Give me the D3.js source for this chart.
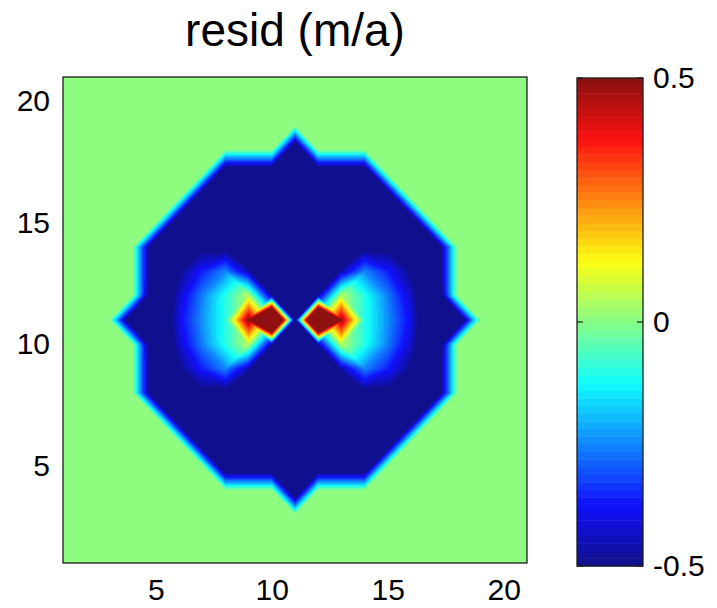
<!DOCTYPE html>
<html>
<head>
<meta charset="utf-8">
<script src="https://cdn.jsdelivr.net/npm/d3@7/dist/d3.min.js"></script>
<style>
  body { margin: 0; background: #fff; }
  svg text { font-family: "Liberation Sans", Arial, Helvetica, sans-serif; fill: #000; }
</style>
</head>
<body>
<svg id="chart" width="717" height="608"></svg>
<script>
// grid coordinates (columns left->right, rows top->bottom)
const xGrid = [1, 2, 3, 4, 5, 6, 7, 8, 9, 10, 11, 12, 13, 14, 15, 16, 17, 18, 19, 20, 21];
const yGrid = [21, 20, 19, 18, 17, 16, 15, 14, 13, 12, 11, 10, 9, 8, 7, 6, 5, 4, 3, 2, 1];

// residual field (m/a), one row per yGrid entry
const resid = [
  [0,0,0,0,0,0,0,0,0,0,0,0,0,0,0,0,0,0,0,0,0],
  [0,0,0,0,0,0,0,0,0,0,0,0,0,0,0,0,0,0,0,0,0],
  [0,0,0,0,0,0,0,0,0,0,0,0,0,0,0,0,0,0,0,0,0],
  [0,0,0,0,0,0,0,0,0,0,-0.7,0,0,0,0,0,0,0,0,0,0],
  [0,0,0,0,0,0,0,-0.7,-0.7,-0.7,-0.7,-0.7,-0.7,-0.7,0,0,0,0,0,0,0],
  [0,0,0,0,0,0,-0.7,-1,-1,-1,-1,-1,-1,-1,-0.7,0,0,0,0,0,0],
  [0,0,0,0,0,-0.7,-1,-1,-1,-1,-1,-1,-1,-1,-1,-0.7,0,0,0,0,0],
  [0,0,0,0,-0.7,-0.65,-0.52,-0.52,-1,-1,-1,-1,-1,-0.52,-0.52,-0.65,-0.7,0,0,0,0],
  [0,0,0,0,-0.7,-0.5,-0.36,-0.25,-0.45,-1,-1,-1,-0.45,-0.25,-0.36,-0.5,-0.7,0,0,0,0],
  [0,0,0,0,-0.75,-0.43,-0.26,-0.1,0.05,-0.45,-1.2,-0.45,0.05,-0.1,-0.26,-0.43,-0.75,0,0,0,0],
  [0,0,0,-0.7,-0.7,-0.4,-0.24,-0.1,0.5,1.5,-0.5,1.5,0.5,-0.1,-0.24,-0.4,-0.7,-0.7,0,0,0],
  [0,0,0,0,-0.75,-0.43,-0.26,-0.1,0.05,-0.45,-1.2,-0.45,0.05,-0.1,-0.26,-0.43,-0.75,0,0,0,0],
  [0,0,0,0,-0.7,-0.5,-0.36,-0.25,-0.45,-1,-1,-1,-0.45,-0.25,-0.36,-0.5,-0.7,0,0,0,0],
  [0,0,0,0,-0.7,-0.65,-0.52,-0.52,-1,-1,-1,-1,-1,-0.52,-0.52,-0.65,-0.7,0,0,0,0],
  [0,0,0,0,0,-0.7,-1,-1,-1,-1,-1,-1,-1,-1,-1,-0.7,0,0,0,0,0],
  [0,0,0,0,0,0,-0.7,-1,-1,-1,-1,-1,-1,-1,-0.7,0,0,0,0,0,0],
  [0,0,0,0,0,0,0,-0.7,-0.7,-0.7,-0.7,-0.7,-0.7,-0.7,0,0,0,0,0,0,0],
  [0,0,0,0,0,0,0,0,0,0,-0.7,0,0,0,0,0,0,0,0,0,0],
  [0,0,0,0,0,0,0,0,0,0,0,0,0,0,0,0,0,0,0,0,0],
  [0,0,0,0,0,0,0,0,0,0,0,0,0,0,0,0,0,0,0,0,0],
  [0,0,0,0,0,0,0,0,0,0,0,0,0,0,0,0,0,0,0,0,0]
];

const xTicks = [5, 10, 15, 20];
const yTicks = [5, 10, 15, 20];
const cLim = [-0.5, 0.5];
const cbTicks = [-0.5, 0, 0.5];
const cbLabels = ["-0.5", "0", "0.5"];
const title = "resid (m/a)";

// matlab-like jet(64), slightly softened to match the scanned look
function jet(m) {
  const out = [];
  const soft = v => 16 + 0.93 * v;
  for (let k = 1; k <= m; k++) {
    const t = (k - 0.5) / m;
    const r = Math.max(0, Math.min(1, 1.5 - Math.abs(4 * t - 3)));
    const g = Math.max(0, Math.min(1, 1.5 - Math.abs(4 * t - 2)));
    const b = Math.max(0, Math.min(1, 1.5 - Math.abs(4 * t - 1)));
    out.push(d3.rgb(soft(r * 255), soft(g * 255), soft(b * 255)));
  }
  return out;
}
const jetColors = jet(64);
const color = d3.scaleQuantize().domain(cLim).range(jetColors);

const svg = d3.select("#chart");
const plot = { left: 63, top: 77, width: 464, height: 486 };
const cb = { left: 577, top: 78, width: 66, height: 488 };

const x = d3.scaleLinear().domain([1, 21]).range([plot.left, plot.left + plot.width]);
const y = d3.scaleLinear().domain([1, 21]).range([plot.top + plot.height, plot.top]);
const col = d3.scaleLinear().domain([xGrid[0], xGrid[xGrid.length - 1]]).range([0, xGrid.length - 1]);
const row = d3.scaleLinear().domain([yGrid[0], yGrid[yGrid.length - 1]]).range([0, yGrid.length - 1]);

// interpolated shading, each cell split into two triangles
function valueAt(xv, yv) {
  const c = col(xv), r = row(yv);
  const c0 = Math.max(0, Math.min(xGrid.length - 2, Math.floor(c)));
  const r0 = Math.max(0, Math.min(yGrid.length - 2, Math.floor(r)));
  const fx = c - c0, fy = r - r0;
  const a = resid[r0][c0], b = resid[r0][c0 + 1];
  const d = resid[r0 + 1][c0], e = resid[r0 + 1][c0 + 1];
  if (Math.abs(a - e) <= Math.abs(b - d)) {
    if (fx >= fy) return a + fx * (b - a) + fy * (e - b);
    return a + fy * (d - a) + fx * (e - d);
  }
  if (fx + fy <= 1) return a + fx * (b - a) + fy * (d - a);
  return e + (1 - fx) * (d - e) + (1 - fy) * (b - e);
}

const canvas = document.createElement("canvas");
canvas.width = plot.width;
canvas.height = plot.height;
const ctx = canvas.getContext("2d");
const img = ctx.createImageData(plot.width, plot.height);
for (let py = 0; py < plot.height; py++) {
  const yv = y.invert(plot.top + py + 0.5);
  for (let px = 0; px < plot.width; px++) {
    const xv = x.invert(plot.left + px + 0.5);
    const c = color(valueAt(xv, yv));
    const k = (py * plot.width + px) * 4;
    img.data[k] = c.r; img.data[k + 1] = c.g; img.data[k + 2] = c.b; img.data[k + 3] = 255;
  }
}
ctx.putImageData(img, 0, 0);

svg.append("image")
  .attr("x", plot.left).attr("y", plot.top)
  .attr("width", plot.width).attr("height", plot.height)
  .attr("href", canvas.toDataURL());

svg.append("rect")
  .attr("x", plot.left).attr("y", plot.top)
  .attr("width", plot.width).attr("height", plot.height)
  .attr("fill", "none").attr("stroke", "#1e1e1e").attr("stroke-width", 1.3);

// axes (ticks hidden under the image as in the original)
const xAxis = svg.append("g")
  .attr("transform", `translate(0,${plot.top + plot.height})`)
  .call(d3.axisBottom(x).tickValues(xTicks).tickSize(0).tickPadding(16));
const yAxis = svg.append("g")
  .attr("transform", `translate(${plot.left},0)`)
  .call(d3.axisLeft(y).tickValues(yTicks).tickSize(0).tickPadding(13));
[xAxis, yAxis].forEach(g => {
  g.select(".domain").remove();
  g.attr("font-size", null).attr("font-family", null);
  g.selectAll("text").style("font-size", "30px");
});

// colorbar
const cy = d3.scaleLinear().domain(cLim).range([cb.top + cb.height, cb.top]);
svg.append("g").selectAll("rect")
  .data(jetColors)
  .join("rect")
  .attr("x", cb.left)
  .attr("width", cb.width)
  .attr("y", c => cy(color.invertExtent(c)[1]))
  .attr("height", c => cy(color.invertExtent(c)[0]) - cy(color.invertExtent(c)[1]) + 0.5)
  .attr("fill", c => c);

svg.append("rect")
  .attr("x", cb.left).attr("y", cb.top)
  .attr("width", cb.width).attr("height", cb.height)
  .attr("fill", "none").attr("stroke", "#1e1e1e").attr("stroke-width", 1.3);

const cbAxis = svg.append("g")
  .attr("transform", `translate(${cb.left + cb.width},0)`)
  .call(d3.axisRight(cy).tickValues(cbTicks).tickSize(0).tickPadding(10)
    .tickFormat((d, i) => cbLabels[i]));
cbAxis.select(".domain").remove();
cbAxis.attr("font-size", null).attr("font-family", null);
cbAxis.selectAll("text").style("font-size", "30px");

// small inward ticks on the colorbar
svg.append("g").selectAll("line")
  .data(cbTicks.flatMap(t => [[t, cb.left, cb.left + 6], [t, cb.left + cb.width, cb.left + cb.width - 6]]))
  .join("line")
  .attr("x1", d => d[1]).attr("x2", d => d[2])
  .attr("y1", d => cy(d[0])).attr("y2", d => cy(d[0]))
  .attr("stroke", "#1e1e1e").attr("stroke-width", 1.2);

svg.append("text")
  .attr("x", plot.left + plot.width / 2)
  .attr("y", 46)
  .attr("text-anchor", "middle")
  .style("font-size", "46px")
  .text(title);
</script>
</body>
</html>
